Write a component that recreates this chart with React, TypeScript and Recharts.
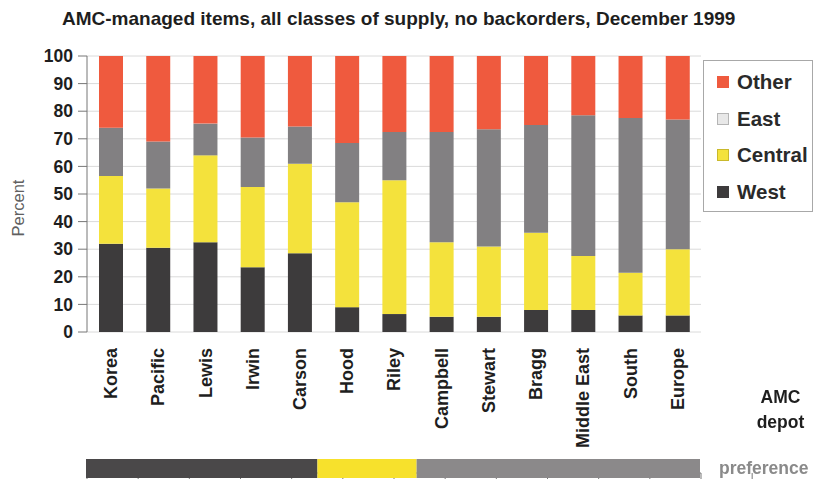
import React from 'react';
import { BarChart, Bar, XAxis, YAxis, CartesianGrid } from 'recharts';

const FONT = '"Liberation Sans", Arial, Helvetica, sans-serif';

const sites = ['Korea', 'Pacific', 'Lewis', 'Irwin', 'Carson', 'Hood', 'Riley', 'Campbell', 'Stewart', 'Bragg', 'Middle East', 'South', 'Europe'];
const west = [32, 30.5, 32.5, 23.5, 28.5, 9, 6.5, 5.5, 5.5, 8, 8, 6, 6];
const central = [24.5, 21.5, 31.5, 29, 32.5, 38, 48.5, 27, 25.5, 28, 19.5, 15.5, 24];
const east = [17.5, 17, 11.5, 18, 13.5, 21.5, 17.5, 40, 42.5, 39, 51, 56, 47];
const other = [26, 31, 24.5, 29.5, 25.5, 31.5, 27.5, 27.5, 26.5, 25, 21.5, 22.5, 23];
const yTicks = [0, 10, 20, 30, 40, 50, 60, 70, 80, 90, 100];
const edgeTicks = [0, 1, 2, 3, 4, 5, 6, 7, 8, 9, 10, 11, 12, 13];

// depot preference band: how many sites fall to each depot
const preference = { west: 4.9, central: 2.1, east: 6 };

const colors = { west: '#3d3b3c', central: '#f4e23c', east: '#828082', other: '#ef5a3e' };
const bandColors = { west: '#4a4849', central: '#f7e12c', east: '#8b898a' };

const data = sites.map((name, i) => ({
  name,
  west: west[i],
  central: central[i],
  east: east[i],
  other: other[i],
}));

const legendItems = [
  { label: 'Other', fill: colors.other, stroke: colors.other },
  { label: 'East', fill: '#e8e8e8', stroke: '#b5b5b5' },
  { label: 'Central', fill: colors.central, stroke: '#c9b92c' },
  { label: 'West', fill: colors.west, stroke: colors.west },
];

const SiteTick = (props: any) => {
  const { x, y, payload } = props;
  return (
    <g transform={`translate(${x},${y})`}>
      <text
        transform="rotate(-90)"
        x={-8}
        y={0}
        dy="0.36em"
        textAnchor="end"
        fill="#1e1e1e"
        fontSize={18}
        fontWeight="bold"
        fontFamily={FONT}
      >
        {payload.value}
      </text>
    </g>
  );
};

export default function App() {
  return (
    <div style={{ position: 'fixed', left: 0, top: 0, width: 815, height: 481, background: '#fff', fontFamily: FONT }}>
      <div style={{ position: 'absolute', left: 62, top: 8, fontSize: 19, fontWeight: 'bold', color: '#1e1e1e', whiteSpace: 'nowrap' }}>
        AMC-managed items, all classes of supply, no backorders, December 1999
      </div>

      <div style={{ position: 'absolute', left: 0, top: 0 }}>
        <BarChart
          width={815}
          height={481}
          data={data}
          margin={{ top: 56, right: 114, bottom: 0, left: 0 }}
          barSize={24}
        >
          <CartesianGrid vertical={false} stroke="#dadada" xAxisId="cat" />
          <XAxis
            xAxisId="edge"
            type="number"
            domain={[0, 13]}
            ticks={edgeTicks}
            allowDataOverflow
            tickFormatter={() => ''}
            height={8}
            tickSize={6}
            stroke="#777"
          />
          <XAxis
            xAxisId="cat"
            dataKey="name"
            interval={0}
            axisLine={false}
            tickLine={false}
            height={141}
            tick={<SiteTick />}
          />
          <YAxis
            domain={[0, 100]}
            ticks={yTicks}
            width={87}
            tickSize={9}
            tickMargin={5}
            stroke="#777"
            tick={{ fill: '#1e1e1e', fontSize: 17.5, fontWeight: 'bold', fontFamily: FONT }}
            label={{
              value: 'Percent',
              angle: -90,
              position: 'insideLeft',
              offset: 18,
              dy: 14,
              style: { fill: '#606060', fontSize: 16.5, fontFamily: FONT, textAnchor: 'middle' },
            }}
          />
          <Bar xAxisId="cat" dataKey="west" stackId="s" fill={colors.west} isAnimationActive={false} />
          <Bar xAxisId="cat" dataKey="central" stackId="s" fill={colors.central} isAnimationActive={false} />
          <Bar xAxisId="cat" dataKey="east" stackId="s" fill={colors.east} isAnimationActive={false} />
          <Bar xAxisId="cat" dataKey="other" stackId="s" fill={colors.other} isAnimationActive={false} />
        </BarChart>
      </div>

      <div
        style={{
          position: 'absolute',
          left: 703,
          top: 60,
          width: 110,
          height: 152,
          border: '1px solid #a8a8a8',
          boxSizing: 'border-box',
          paddingTop: 3,
        }}
      >
        {legendItems.map((it) => (
          <div key={it.label} style={{ display: 'flex', alignItems: 'center', height: 36.5, paddingLeft: 13 }}>
            <span
              style={{
                display: 'inline-block',
                width: 10,
                height: 10,
                background: it.fill,
                border: `1px solid ${it.stroke}`,
                marginRight: 8,
              }}
            />
            <span style={{ fontSize: 20.5, fontWeight: 'bold', color: '#2a2a2a' }}>{it.label}</span>
          </div>
        ))}
      </div>

      <div style={{ position: 'absolute', left: 0, top: 459 }}>
        <BarChart
          width={815}
          height={19}
          layout="vertical"
          data={[{ name: 'pref', ...preference }]}
          margin={{ top: 0, right: 115, bottom: 0, left: 86 }}
          barCategoryGap={0}
        >
          <XAxis type="number" domain={[0, 13]} hide />
          <YAxis type="category" dataKey="name" hide />
          <Bar dataKey="west" stackId="p" fill={bandColors.west} isAnimationActive={false} />
          <Bar dataKey="central" stackId="p" fill={bandColors.central} isAnimationActive={false} />
          <Bar dataKey="east" stackId="p" fill={bandColors.east} isAnimationActive={false} />
        </BarChart>
      </div>

      <div style={{ position: 'absolute', left: 723, top: 385, width: 115, textAlign: 'center', fontSize: 17.5, fontWeight: 'bold', lineHeight: '25px', color: '#1e1e1e' }}>
        <div>AMC</div>
        <div>depot</div>
      </div>
      <div style={{ position: 'absolute', left: 719, top: 458, fontSize: 17.5, fontWeight: 'bold', color: '#8a8a8a', whiteSpace: 'nowrap' }}>
        preference
      </div>
    </div>
  );
}
